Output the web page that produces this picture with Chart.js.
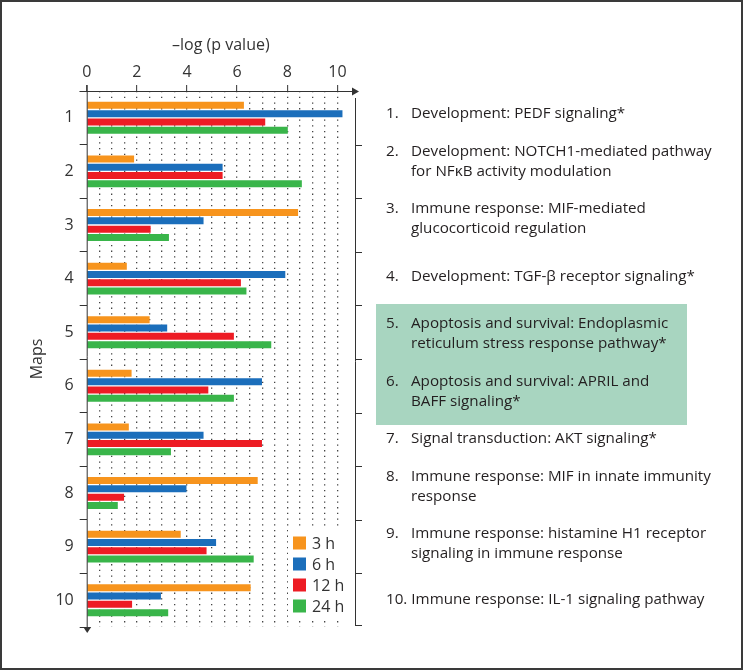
<!DOCTYPE html>
<html>
<head>
<meta charset="utf-8">
<script src="https://cdn.jsdelivr.net/npm/chart.js@4"></script>
<style>
  html, body { margin: 0; padding: 0; background: #fff; }
  #wrap { position: relative; width: 746px; height: 670px; overflow: hidden; }
  #frame { position: absolute; left: 0; top: 0; width: 743px; height: 670px;
           box-sizing: border-box; border: 2px solid #3a3a3a; pointer-events: none; }
  #hl { position: absolute; left: 376px; top: 304px; width: 311px; height: 121px; background: #a8d5c0; }
  .item { position: absolute; left: 386px; display: flex; font-family: "Open Sans", sans-serif;
          font-size: 15.2px; line-height: 19.5px; color: #231f20; white-space: pre-line; }
  .num { width: 25px; flex: none; }
  .num.wide { width: auto; margin-right: 4px; }
  canvas { position: absolute; left: 0; top: 0; }
</style>
</head>
<body>
<div id="wrap">
  <div id="hl"></div>
  <canvas id="chart" width="746" height="670"></canvas>
  <div id="frame"></div>
</div>
<script>
// categories (maps) and series
const maps = ['1', '2', '3', '4', '5', '6', '7', '8', '9', '10'];
const seriesNames = ['3 h', '6 h', '12 h', '24 h'];
const h3 = [6.27, 1.89, 8.43, 1.60, 2.51, 1.79, 1.68, 6.82, 3.75, 6.54];
const h6 = [10.2, 5.42, 4.66, 7.92, 3.21, 6.99, 4.66, 3.98, 5.16, 2.96];
const h12 = [7.12, 5.42, 2.55, 6.15, 5.87, 4.85, 6.99, 1.49, 4.78, 1.81];
const h24 = [8.02, 8.58, 3.28, 6.37, 7.36, 5.87, 3.36, 1.24, 6.66, 3.25];
const xTickLabels = [0, 2, 4, 6, 8, 10];
const mapNames = [
  'Development: PEDF signaling*',
  'Development: NOTCH1-mediated pathway\nfor NF\u03baB activity modulation',
  'Immune response: MIF-mediated\nglucocorticoid regulation',
  'Development: TGF-\u03b2 receptor signaling*',
  'Apoptosis and survival: Endoplasmic\nreticulum stress response pathway*',
  'Apoptosis and survival: APRIL and\nBAFF signaling*',
  'Signal transduction: AKT signaling*',
  'Immune response: MIF in innate immunity\nresponse',
  'Immune response: histamine H1 receptor\nsignaling in immune response',
  'Immune response: IL-1 signaling pathway'
];

const colors = ['#f7941d', '#1b6ebb', '#ed1c24', '#39b54a'];
const ink = '#333333';
const font = '"Open Sans", sans-serif';

// right-hand list (first line centre of each entry)
const itemCentre = [113, 151, 208, 276, 323, 381, 438, 476, 533, 599];
const wrap = document.getElementById('wrap');
mapNames.forEach((name, i) => {
  const d = document.createElement('div');
  d.className = 'item';
  d.style.top = (itemCentre[i] - 9.75) + 'px';
  const n = document.createElement('div');
  n.className = 'num' + (i >= 9 ? ' wide' : '');
  n.textContent = (i + 1) + '.';
  const t = document.createElement('div');
  t.textContent = name;
  d.appendChild(n);
  d.appendChild(t);
  wrap.appendChild(d);
});

const axesPlugin = {
  id: 'axesPlugin',
  afterDraw(chart) {
    const ctx = chart.ctx;
    const a = chart.chartArea;
    const y = chart.scales.y;
    ctx.save();
    ctx.strokeStyle = ink;
    ctx.fillStyle = ink;
    ctx.lineWidth = 1;
    // top axis with arrow
    ctx.beginPath();
    ctx.moveTo(a.left - 7, a.top + 0.5);
    ctx.lineTo(a.right - 3, a.top + 0.5);
    ctx.stroke();
    ctx.beginPath();
    ctx.moveTo(a.right + 4, a.top + 0.5);
    ctx.lineTo(a.right - 3, a.top - 3.5);
    ctx.lineTo(a.right - 3, a.top + 4.5);
    ctx.closePath();
    ctx.fill();
    // left axis with arrow
    ctx.beginPath();
    ctx.moveTo(a.left + 0.5, a.top - 6);
    ctx.lineTo(a.left + 0.5, a.bottom + 1);
    ctx.stroke();
    ctx.beginPath();
    ctx.moveTo(a.left + 0.5, a.bottom + 6);
    ctx.lineTo(a.left - 3.5, a.bottom);
    ctx.lineTo(a.left + 4.5, a.bottom);
    ctx.closePath();
    ctx.fill();
    // right frame line with outward ticks at category boundaries
    ctx.beginPath();
    ctx.moveTo(a.right + 0.5, a.top + 7);
    ctx.lineTo(a.right + 0.5, a.bottom - 2);
    const step = (a.bottom - a.top) / maps.length;
    for (let i = 1; i <= maps.length; i++) {
      const yy = Math.round(y.getPixelForValue(i - 1) + step / 2) + 0.5;
      ctx.moveTo(a.right, yy - (i === maps.length ? 2 : 0));
      ctx.lineTo(a.right + 7, yy - (i === maps.length ? 2 : 0));
    }
    ctx.stroke();
    // legend box
    const lx = a.right - 62, ly = a.bottom - 95;
    ctx.fillStyle = '#fff';
    ctx.fillRect(lx - 5, ly - 3, 64, 90);
    ctx.font = '16px ' + font;
    ctx.textBaseline = 'middle';
    chart.data.datasets.forEach((ds, i) => {
      const cy = ly + 11 + i * 21;
      ctx.fillStyle = ds.backgroundColor;
      ctx.fillRect(lx, cy - 6.5, 13, 13);
      ctx.fillStyle = ink;
      ctx.fillText(ds.label, lx + 19, cy + 1);
    });
    ctx.restore();
  }
};

new Chart(document.getElementById('chart'), {
  type: 'bar',
  data: {
    labels: maps,
    datasets: [h3, h6, h12, h24].map((vals, i) => ({
      label: seriesNames[i],
      data: vals,
      backgroundColor: colors[i],
      borderWidth: 0,
      categoryPercentage: 0.62,
      barPercentage: 0.84
    }))
  },
  options: {
    indexAxis: 'y',
    responsive: false,
    animation: false,
    layout: { padding: { left: 28, top: 36, right: 391, bottom: 43 } },
    plugins: { legend: { display: false }, tooltip: { enabled: false } },
    scales: {
      x: {
        position: 'top',
        min: 0,
        max: 10.7,
        afterFit: s => { s.height = 55; },
        ticks: {
          stepSize: 0.5,
          autoSkip: false,
          maxRotation: 0,
          padding: 3,
          color: ink,
          font: { family: font, size: 16 },
          callback: v => xTickLabels.includes(v) ? String(v) : ''
        },
        grid: {
          drawTicks: true,
          tickLength: 6,
          lineWidth: 1.3,
          color: c => (c.tick && c.tick.value > 0 && c.tick.value <= 10.5) ? '#444' : 'rgba(0,0,0,0)',
          tickColor: c => (c.tick && xTickLabels.includes(c.tick.value)) ? ink : 'rgba(0,0,0,0)',
          tickWidth: 1
        },
        border: { display: false, dash: [1.3, 4.4] },
        title: {
          display: true,
          text: '\u2013log (p value)',
          color: ink,
          font: { family: font, size: 16 },
          padding: { top: 0, bottom: 8 }
        }
      },
      y: {
        afterFit: s => { s.width = 58.7; },
        ticks: {
          padding: 6,
          color: ink,
          font: { family: font, size: 16 }
        },
        grid: {
          offset: true,
          drawOnChartArea: false,
          drawTicks: true,
          tickLength: 7,
          tickColor: ink,
          tickWidth: 1
        },
        border: { display: false },
        title: {
          display: true,
          text: 'Maps',
          color: ink,
          font: { family: font, size: 16 },
          padding: { top: 0, bottom: 4 }
        }
      }
    }
  },
  plugins: [axesPlugin]
});
</script>
</body>
</html>
